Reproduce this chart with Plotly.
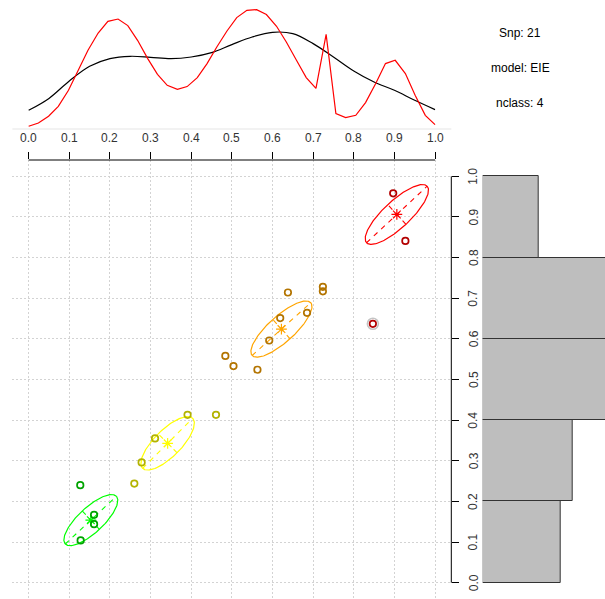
import numpy as np
import plotly.graph_objects as go

# ---------------- data ----------------
# cluster palette (ellipse / centre colour) and darker point colour
cluster_names = ["green", "yellow", "orange", "red"]
cluster_colors = ["#00FF00", "#FFFF00", "#FFA500", "#FF0000"]
point_colors = ["#00A300", "#B3B300", "#B37400", "#B30000"]

# observations: x, y, cluster index, outlier flag
pt_x = [0.127, 0.161, 0.161, 0.128,
        0.391, 0.461, 0.311, 0.278, 0.260,
        0.638, 0.724, 0.724, 0.619, 0.685, 0.592, 0.484, 0.504, 0.563,
        0.897, 0.927, 0.847]
pt_y = [0.240, 0.167, 0.144, 0.104,
        0.413, 0.413, 0.355, 0.296, 0.244,
        0.714, 0.728, 0.717, 0.651, 0.664, 0.596, 0.558, 0.533, 0.524,
        0.958, 0.841, 0.637]
pt_cluster = [0, 0, 0, 0,
              1, 1, 1, 1, 1,
              2, 2, 2, 2, 2, 2, 2, 2, 2,
              3, 3, 3]
pt_outlier = [0] * 20 + [1]

# cluster centres and ellipse geometry (semi-axes in data units, angle in degrees)
center_x = [0.153, 0.342, 0.622, 0.906]
center_y = [0.154, 0.343, 0.624, 0.906]
semi_major = [0.086, 0.087, 0.097, 0.102]
semi_minor = [0.031, 0.033, 0.032, 0.033]
ellipse_angle = [43, 45, 42, 43]

# density curves drawn above the scatter
dens_x_red = [0.000, 0.024, 0.049, 0.073, 0.098, 0.122, 0.146, 0.171, 0.195, 0.220,
              0.244, 0.268, 0.293, 0.317, 0.341, 0.366, 0.390, 0.415, 0.439, 0.463,
              0.488, 0.512, 0.537, 0.561, 0.585, 0.610, 0.634, 0.659, 0.683, 0.707,
              0.732, 0.756, 0.780, 0.805, 0.829, 0.854, 0.878, 0.902, 0.927, 0.951,
              0.976, 1.000]
dens_y_red = [0.050, 0.105, 0.217, 0.383, 0.650, 0.983, 1.317, 1.605, 1.800, 1.838,
              1.728, 1.483, 1.178, 0.917, 0.733, 0.667, 0.712, 0.862, 1.095, 1.372,
              1.638, 1.862, 1.983, 1.995, 1.912, 1.717, 1.455, 1.150, 0.862, 0.683,
              1.583, 0.262, 0.195, 0.233, 0.445, 0.762, 1.095, 1.150, 0.928, 0.567,
              0.233, 0.078]
dens_x_black = [0.00, 0.05, 0.10, 0.15, 0.20, 0.25, 0.30, 0.35, 0.40, 0.45, 0.50,
                0.55, 0.60, 0.65, 0.70, 0.75, 0.80, 0.85, 0.90, 0.95, 1.00]
dens_y_black = [0.317, 0.515, 0.805, 1.050, 1.178, 1.217, 1.200, 1.178, 1.205, 1.278,
                1.412, 1.538, 1.617, 1.595, 1.428, 1.205, 0.972, 0.788, 0.650, 0.483,
                0.328]

# histogram of y (bin edges and counts)
hist_edges = [0.0, 0.2, 0.4, 0.6, 0.8, 1.0]
hist_counts = [7, 8, 12, 12, 5]

tick_vals = [0.0, 0.1, 0.2, 0.3, 0.4, 0.5, 0.6, 0.7, 0.8, 0.9, 1.0]
tick_text = ["0.0", "0.1", "0.2", "0.3", "0.4", "0.5", "0.6", "0.7", "0.8", "0.9", "1.0"]

info_lines = ["Snp: 21", "model: EIE", "nclass: 4"]

# ---------------- layout geometry ----------------
W, H = 605, 599
FONT = "Liberation Sans, Arial, Helvetica, sans-serif"
main_x_dom = [12.4 / W, 451.3 / W]
main_y_dom = [0.0, 1 - 160 / H]
top_y_dom = [1 - 129.3 / H, 1.0]
hist_x_dom = [482.7 / W, 1.0]
rng = [-0.04, 1.04]

fig = go.Figure()

# ---------------- density panel ----------------
fig.add_trace(go.Scatter(x=dens_x_black, y=dens_y_black, mode="lines",
                         line=dict(color="black", width=1.2, shape="spline", smoothing=1.0),
                         xaxis="x2", yaxis="y2", hoverinfo="skip"))
fig.add_trace(go.Scatter(x=dens_x_red, y=dens_y_red, mode="lines",
                         line=dict(color="#FF0000", width=1.2),
                         xaxis="x2", yaxis="y2", hoverinfo="skip"))

# ---------------- ellipses with axes ----------------
t = np.linspace(0, 2 * np.pi, 200)
for k in range(len(cluster_names)):
    th = np.deg2rad(ellipse_angle[k])
    ux, uy = np.cos(th), np.sin(th)
    vx, vy = -np.sin(th), np.cos(th)
    a, b = semi_major[k], semi_minor[k]
    cx, cy = center_x[k], center_y[k]
    ex = cx + a * np.cos(t) * ux + b * np.sin(t) * vx
    ey = cy + a * np.cos(t) * uy + b * np.sin(t) * vy
    col = cluster_colors[k]
    fig.add_trace(go.Scatter(x=ex, y=ey, mode="lines",
                             line=dict(color=col, width=1.2), hoverinfo="skip"))
    fig.add_trace(go.Scatter(x=[cx - a * ux, cx + a * ux], y=[cy - a * uy, cy + a * uy],
                             mode="lines", line=dict(color=col, width=1.1, dash="5px,5px"),
                             hoverinfo="skip"))
    fig.add_trace(go.Scatter(x=[cx - b * vx, cx + b * vx], y=[cy - b * vy, cy + b * vy],
                             mode="lines", line=dict(color=col, width=1.1, dash="5px,5px"),
                             hoverinfo="skip"))
    fig.add_trace(go.Scatter(x=[cx], y=[cy], mode="markers",
                             marker=dict(symbol="asterisk-open", size=9, color=col,
                                         line=dict(color=col, width=1.2)),
                             hoverinfo="skip"))

# ---------------- observations ----------------
ox = [x for x, o in zip(pt_x, pt_outlier) if o]
oy = [y for y, o in zip(pt_y, pt_outlier) if o]
fig.add_trace(go.Scatter(x=ox, y=oy, mode="markers",
                         marker=dict(symbol="circle-open", size=11, color="#C4C4C4",
                                     line=dict(color="#C4C4C4", width=1.6)),
                         hoverinfo="skip"))
for k in range(len(cluster_names)):
    xs = [x for x, c in zip(pt_x, pt_cluster) if c == k]
    ys = [y for y, c in zip(pt_y, pt_cluster) if c == k]
    fig.add_trace(go.Scatter(x=xs, y=ys, mode="markers",
                             marker=dict(symbol="circle-open", size=6.5, color=point_colors[k],
                                         line=dict(color=point_colors[k], width=1.7)),
                             hoverinfo="skip"))

# ---------------- histogram ----------------
bin_mid = [(hist_edges[i] + hist_edges[i + 1]) / 2 for i in range(len(hist_counts))]
bin_w = [hist_edges[i + 1] - hist_edges[i] for i in range(len(hist_counts))]
fig.add_trace(go.Bar(y=bin_mid, x=hist_counts, width=bin_w, orientation="h",
                     marker=dict(color="#BEBEBE", line=dict(color="#333333", width=1)),
                     xaxis="x3", yaxis="y3", hoverinfo="skip"))

# ---------------- axes ----------------
grid_common = dict(showgrid=True, gridcolor="#D3D3D3", gridwidth=1, griddash="2px,2px",
                   zeroline=False, showline=False, range=rng, tickvals=tick_vals,
                   ticks="outside", ticklen=7, tickwidth=1, tickcolor="black",
                   showticklabels=False, fixedrange=True)
fig.update_layout(
    width=W, height=H, margin=dict(l=0, r=0, t=0, b=0),
    paper_bgcolor="white", plot_bgcolor="white", showlegend=False,
    font=dict(family=FONT, size=12, color="black"),
    xaxis=dict(domain=main_x_dom, anchor="y", side="top", **grid_common),
    yaxis=dict(domain=main_y_dom, anchor="x", side="right", **grid_common),
    xaxis2=dict(domain=main_x_dom, anchor="y2", range=rng, visible=False),
    yaxis2=dict(domain=top_y_dom, anchor="x2", range=[0, 2.155], visible=False),
    xaxis3=dict(domain=hist_x_dom, anchor="y3", range=[0, 10.92], visible=False),
    yaxis3=dict(domain=main_y_dom, anchor="x3", range=rng, visible=False),
    bargap=0,
)

shapes = []
# top axis line and right axis line (span first to last tick)
shapes.append(dict(type="line", xref="x", yref="paper", x0=tick_vals[0], x1=tick_vals[-1],
                   y0=main_y_dom[1], y1=main_y_dom[1], line=dict(color="black", width=1)))
shapes.append(dict(type="line", xref="paper", yref="y", x0=main_x_dom[1], x1=main_x_dom[1],
                   y0=tick_vals[0], y1=tick_vals[-1], line=dict(color="black", width=1)))
# density baseline
shapes.append(dict(type="line", xref="paper", yref="y2", x0=main_x_dom[0], x1=main_x_dom[1],
                   y0=0, y1=0, line=dict(color="#BEBEBE", width=1)))
fig.update_layout(shapes=shapes)

annotations = []
for v, s in zip(tick_vals, tick_text):
    annotations.append(dict(x=v, y=1 - 137.7 / H, xref="x", yref="paper", text=s,
                            showarrow=False, xanchor="center", yanchor="middle",
                            font=dict(family=FONT, size=12, color="#333333")))
    annotations.append(dict(x=473.5 / W, y=v, xref="paper", yref="y", text=s,
                            showarrow=False, xanchor="center", yanchor="middle",
                            textangle=-90,
                            font=dict(family=FONT, size=12, color="#333333")))
for i, s in enumerate(info_lines):
    annotations.append(dict(x=520 / W, y=1 - (33 + 35 * i) / H, xref="paper", yref="paper",
                            text=s, showarrow=False, xanchor="center", yanchor="middle",
                            font=dict(family=FONT, size=12, color="black")))
fig.update_layout(annotations=annotations)

fig.write_html("out.html")
